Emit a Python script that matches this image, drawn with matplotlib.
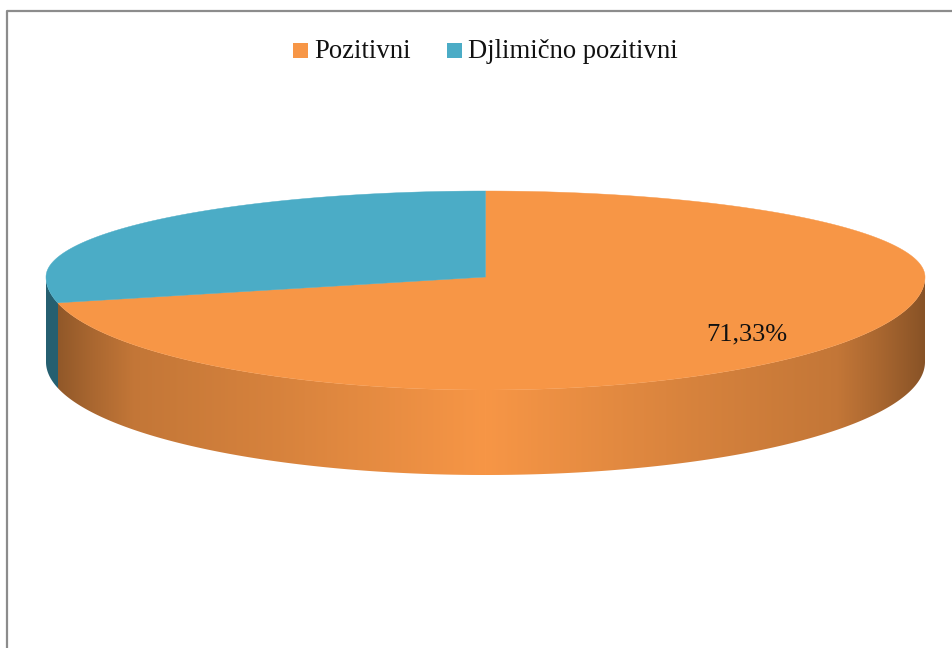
import numpy as np
import matplotlib.pyplot as plt
from matplotlib.colors import to_rgb
from matplotlib.patches import Polygon, Rectangle

plt.rcParams["font.family"] = ["Liberation Serif", "DejaVu Serif"]

categories = ["Pozitivni", "Djlimično pozitivni"]
values = [71.33, 28.67]
colors = ["#F79646", "#4BACC6"]
teal_side = "#255F70"

# pie geometry in pixels, the top half is squashed by the perspective
cx, cy = 485.5, 277
rx = 439.5
ry_up, ry_down = 86, 113
depth = 85


def rim(angle):
    # angle in degrees, clockwise from 12 o'clock
    a = np.radians(angle)
    x = cx + rx * np.sin(a)
    c = np.cos(a)
    y = cy - np.where(c > 0, ry_up, ry_down) * c
    return x, y


fig = plt.figure(figsize=(9.52, 6.48), dpi=100)
ax = fig.add_axes([0, 0, 1, 1])

# outer frame
ax.plot([6.5, 6.5, 952], [648, 10.5, 10.5], color="#8C8C8C", lw=1.6)

# side wall with horizontal shading
split_x = rim(360 * values[0] / sum(values))[0]
xs = np.arange(cx - rx, cx + rx + 1)
u = np.abs(xs + 0.5 - cx) / rx
shade = np.interp(u, [0, 0.47, 0.8, 0.9, 1], [1, 0.87, 0.79, 0.68, 0.55])
orange_part = xs >= split_x
img = np.zeros((1, len(xs), 3))
img[0, orange_part] = np.array(to_rgb(colors[0])) * shade[orange_part, None]
img[0, ~orange_part] = to_rgb(teal_side)
im = ax.imshow(img, extent=(xs[0], xs[-1] + 1, 480, 270), aspect="auto",
               interpolation="nearest", zorder=1)

ax.set_xlim(0, 952)
ax.set_ylim(648, 0)
ax.axis("off")

angles = np.linspace(90, 270, 400)
bx, by = rim(angles)
wall = Polygon(np.r_[np.c_[bx, by], np.c_[bx[::-1], by[::-1] + depth]],
               closed=True, transform=ax.transData, fc="none", ec="none")
ax.add_patch(wall)
im.set_clip_path(wall)

# top faces
start = 0
for value, color in zip(values, colors):
    sweep = 360 * value / sum(values)
    t = np.linspace(start, start + sweep, 600)
    x, y = rim(t)
    ax.add_patch(Polygon(np.c_[np.r_[cx, x], np.r_[cy, y]], closed=True,
                         fc=color, ec=color, lw=0.3, zorder=2))
    start += sweep

ax.text(747, 334, f"{values[0]:.2f}%".replace(".", ","), fontsize=19, color="#111111",
        ha="center", va="center", zorder=3)

# legend
ax.add_patch(Rectangle((293, 43), 15, 15, fc=colors[0], ec="none"))
ax.text(314, 51, categories[0], fontsize=19.2, color="#111111", ha="left", va="center")
ax.add_patch(Rectangle((447, 43), 15, 15, fc=colors[1], ec="none"))
ax.text(468, 51, categories[1], fontsize=19.2, color="#111111", ha="left", va="center")

fig.savefig("out.png", dpi=100)
